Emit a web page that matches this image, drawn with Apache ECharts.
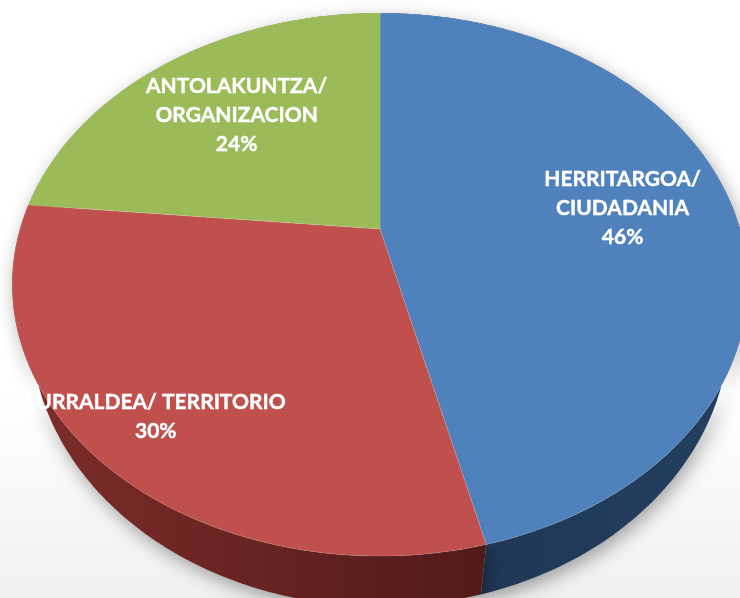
<!DOCTYPE html>
<html>
<head>
<meta charset="utf-8">
<script src="https://cdn.jsdelivr.net/npm/echarts@6/dist/echarts.min.js"></script>
<style>
html,body{margin:0;padding:0;background:#fff}
#chart{width:740px;height:598px}
</style>
</head>
<body>
<div id="chart"></div>
<script>
// data
const names = ['HERRITARGOA/\nCIUDADANIA', 'LURRALDEA/ TERRITORIO', 'ANTOLAKUNTZA/\nORGANIZACION']
const values = [46.2, 30.3, 23.5]
const topColors = ['#4f81bd', '#c0504d', '#9bbb59']
const sideColors = [['#1e3351', '#24405f'], ['#7e2d2a', '#511a19'], ['#5e7530', '#4a5e25']]

// layout of the tilted disc (perspective)
const CX = 380, CY = 229, RX = 360, RY = 260.2, K = 0.2045, DEPTH = 40, BOTTOM_SCALE = 0.95
const labelR = [0.69, 0.83, 0.65]

const total = values.reduce((a, b) => a + b, 0)
const starts = []
let acc = 0
values.forEach(v => { starts.push(acc / total * Math.PI * 2); acc += v })

function pt(theta, r, h) {
  const u = r * Math.sin(theta), v = -r * Math.cos(theta)
  const w = 1 - K * v
  const s = h ? BOTTOM_SCALE : 1
  return [CX + s * RX * u / w, CY + (RY * v + h) / w]
}
function arc(a0, a1, h) {
  const n = Math.max(4, Math.ceil((a1 - a0) / (Math.PI / 180)))
  const pts = []
  for (let j = 0; j <= n; j++) pts.push(pt(a0 + (a1 - a0) * j / n, 1, h))
  return pts
}
function angles(params, api) {
  const i = params.dataIndex
  const a0 = starts[i]
  return [a0, a0 + api.value(0) / total * Math.PI * 2]
}

let chart = echarts.init(document.getElementById('chart'))
chart.setOption({
  animation: false,
  backgroundColor: new echarts.graphic.LinearGradient(0, 0, 0, 1, [
    { offset: 0, color: '#ffffff' },
    { offset: 0.65, color: '#ffffff' },
    { offset: 1, color: '#f0f0f0' }
  ]),
  series: [
    {
      type: 'custom',
      coordinateSystem: 'none',
      data: values,
      renderItem: function (params, api) {
        const [a0, a1] = angles(params, api)
        const top = arc(a0, a1, 0)
        const bot = arc(a0, a1, DEPTH).reverse()
        const c = sideColors[params.dataIndex]
        return {
          type: 'polygon',
          shape: { points: top.concat(bot) },
          style: {
            fill: new echarts.graphic.LinearGradient(0, 0, 1, 0, [
              { offset: 0, color: c[0] }, { offset: 1, color: c[1] }
            ]),
            shadowBlur: 18,
            shadowColor: 'rgba(0,0,0,0.35)',
            shadowOffsetX: 3,
            shadowOffsetY: 6
          }
        }
      }
    },
    {
      type: 'custom',
      coordinateSystem: 'none',
      data: values,
      renderItem: function (params, api) {
        const i = params.dataIndex
        const [a0, a1] = angles(params, api)
        const face = [pt(0, 0, 0)].concat(arc(a0, a1, 0))
        const lp = pt((a0 + a1) / 2, labelR[i], 0)
        const pct = Math.round(api.value(0) / total * 100)
        return {
          type: 'group',
          children: [
            {
              type: 'polygon',
              shape: { points: face },
              style: { fill: topColors[i], stroke: 'rgba(255,255,255,0.2)', lineWidth: 0.6 }
            },
            {
              type: 'text',
              x: lp[0],
              y: lp[1],
              style: {
                text: names[i] + '\n' + pct + '%',
                fill: '#ffffff',
                stroke: '#ffffff',
                lineWidth: 0.4,
                fontFamily: 'Lato',
                fontWeight: 'bold',
                fontSize: 21,
                lineHeight: 29,
                align: 'center',
                verticalAlign: 'middle'
              }
            }
          ]
        }
      }
    }
  ]
})
</script>
</body>
</html>
